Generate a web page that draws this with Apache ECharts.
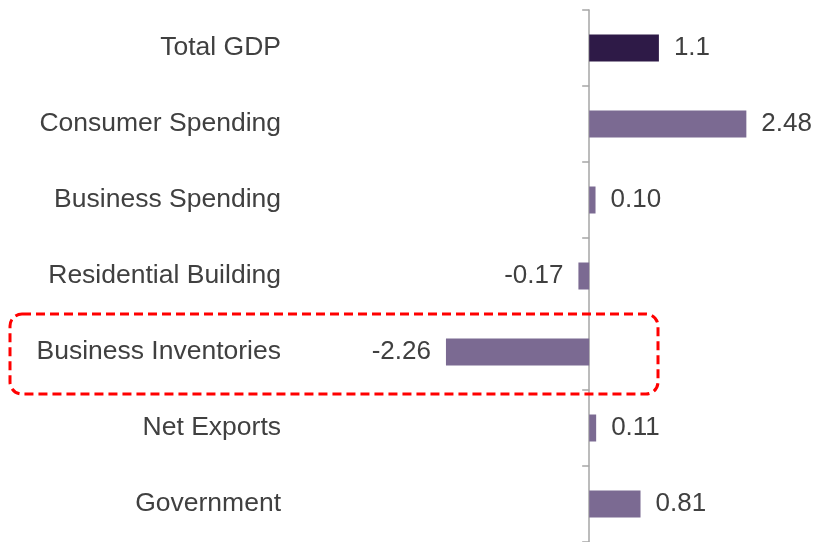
<!DOCTYPE html>
<html>
<head>
<meta charset="utf-8">
<script src="https://cdn.jsdelivr.net/npm/echarts@6/dist/echarts.min.js"></script>
<style>
  html, body { margin: 0; padding: 0; background: #ffffff; }
  #chart { width: 817px; height: 542px; }
</style>
</head>
<body>
<div id="chart"></div>
<script>
// Contributions to GDP growth, percentage points
const categories = [
  'Total GDP',
  'Consumer Spending',
  'Business Spending',
  'Residential Building',
  'Business Inventories',
  'Net Exports',
  'Government'
];
const valueLabels = ['1.1', '2.48', '0.10', '-0.17', '-2.26', '0.11', '0.81'];
const values = valueLabels.map(Number);
const highlighted = 'Business Inventories';

const DARK = '#2e1a47';
const LIGHT = '#7b6a92';
const TEXT = '#404040';
const FONT = 'Liberation Sans, Arial, sans-serif';

const chart = echarts.init(document.getElementById('chart'), null, { renderer: 'canvas' });

const barData = values.map((v, i) => ({
  value: v,
  itemStyle: { color: i === 0 ? DARK : LIGHT },
  label: { position: v < 0 ? 'left' : 'right' }
}));

chart.setOption({
  animation: false,
  backgroundColor: '#ffffff',
  grid: { left: 304, right: 6, top: 10, bottom: -2, containLabel: false },
  xAxis: {
    type: 'value',
    min: -4.5,
    max: 3.5,
    show: false,
    splitLine: { show: false }
  },
  yAxis: [
    {
      // zero line with row separators
      type: 'category',
      data: categories,
      inverse: true,
      position: 'left',
      axisLine: { show: true, onZero: true, lineStyle: { color: '#a6a6a6', width: 1.5 } },
      axisTick: { show: true, length: 7, lineStyle: { color: '#a6a6a6', width: 1.5 } },
      axisLabel: { show: false }
    },
    {
      // category names along the left edge
      type: 'category',
      data: categories,
      inverse: true,
      position: 'left',
      axisLine: { show: false, onZero: false },
      axisTick: { show: false },
      axisLabel: {
        show: true,
        margin: 23,
        padding: [6, 0, 0, 0],
        color: TEXT,
        fontSize: 26.5,
        fontFamily: FONT
      }
    }
  ],
  series: [{
    type: 'bar',
    yAxisIndex: 0,
    barWidth: 27,
    data: barData,
    label: {
      show: true,
      distance: 15,
      padding: [5, 0, 0, 0],
      color: TEXT,
      fontSize: 26,
      fontFamily: FONT,
      formatter: p => valueLabels[p.dataIndex]
    }
  }]
});

// Dashed rounded box around the highlighted category row
const cy = chart.convertToPixel({ yAxisIndex: 0 }, highlighted);
chart.setOption({
  graphic: [{
    type: 'rect',
    shape: { x: 10, y: cy - 38, width: 648, height: 80, r: 12 },
    style: { fill: 'none', stroke: '#ff0000', lineWidth: 3, lineDash: [9, 5] },
    z: 10
  }]
});
</script>
</body>
</html>
